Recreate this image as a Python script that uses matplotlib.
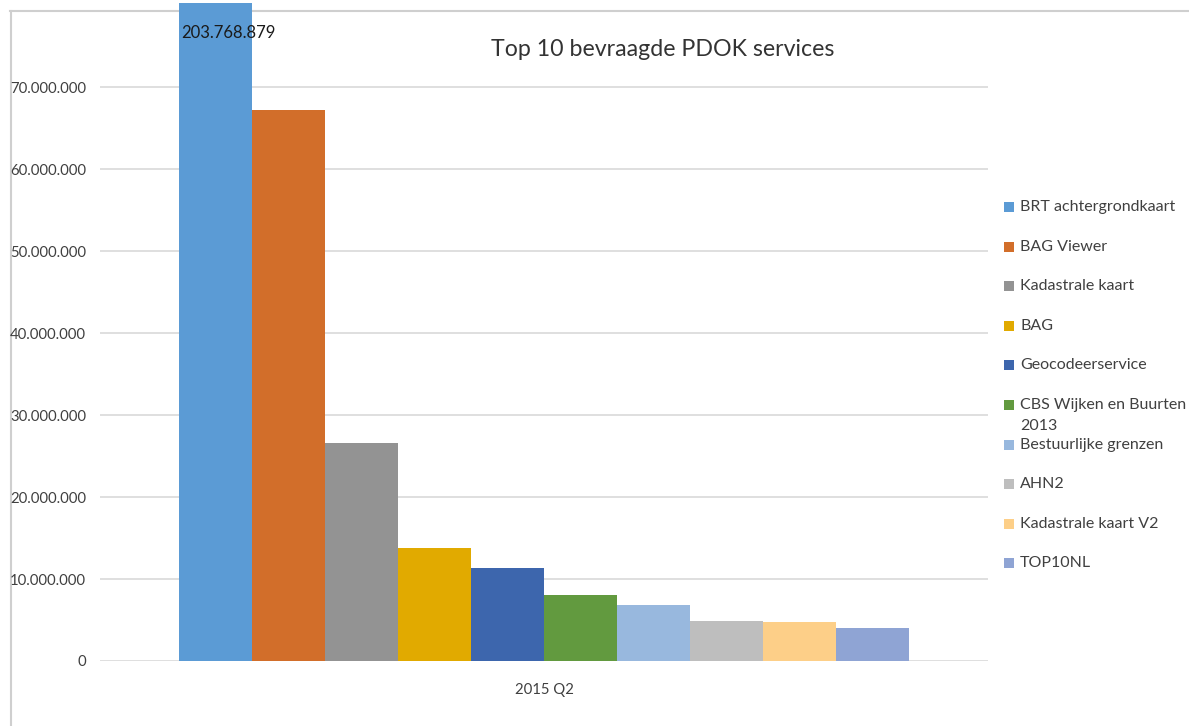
import textwrap
import matplotlib
matplotlib.use("Agg")
import matplotlib.pyplot as plt
from matplotlib.lines import Line2D
from matplotlib.patches import Rectangle

plt.rcParams['font.family'] = ['Lato', 'DejaVu Sans']

# ---- data ----
title = "Top 10 bevraagde PDOK services"
category = "2015 Q2"
services = ["BRT achtergrondkaart", "BAG Viewer", "Kadastrale kaart", "BAG",
            "Geocodeerservice", "CBS Wijken en Buurten 2013", "Bestuurlijke grenzen",
            "AHN2", "Kadastrale kaart V2", "TOP10NL"]
requests = [203768879, 67250000, 26600000, 13800000, 11350000,
            8050000, 6830000, 4880000, 4760000, 4030000]
colors = ["#5B9BD5", "#D26E2A", "#939393", "#E1AA00", "#3D66AD",
          "#629A3F", "#98B8DE", "#BEBEBE", "#FDCF88", "#8FA4D4"]
y_ticks = [0, 10000000, 20000000, 30000000, 40000000, 50000000, 60000000, 70000000]
y_max = 80310000


def nl(v):
    return f"{int(round(v)):,}".replace(",", ".")


W, H = 1189, 726
fig = plt.figure(figsize=(W / 100, H / 100), dpi=100)


def fx(px):
    return px / W


def fy(py):
    return 1 - py / H


# outer chart frame (drawn beneath the plot)
frame_col = "#cfcfcf"
fig.add_artist(Line2D([fx(10), fx(W)], [fy(10.5), fy(10.5)], transform=fig.transFigure,
                      color=frame_col, lw=1.5, zorder=-5))
fig.add_artist(Line2D([fx(10.5), fx(10.5)], [fy(10.5), fy(H)], transform=fig.transFigure,
                      color=frame_col, lw=1.5, zorder=-5))

ax = fig.add_axes([fx(100), fy(661), (988 - 100) / W, (661 - 3) / H])
ax.patch.set_alpha(0)

n = len(services)
bar_w = 0.0821
xs = [(i - (n - 1) / 2) * bar_w for i in range(n)]
ax.bar(xs, requests, width=bar_w, color=colors, zorder=3, linewidth=0)

ax.set_xlim(-0.5, 0.5)
ax.set_ylim(0, y_max)
ax.set_yticks(y_ticks)
ax.set_yticklabels([nl(v) for v in y_ticks])
ax.set_xticks([0])
ax.set_xticklabels([category])
ax.tick_params(axis='y', length=0, pad=10, labelsize=10.7, labelcolor="#404040")
ax.tick_params(axis='x', length=0, pad=16, labelsize=10.7, labelcolor="#404040")
ax.grid(axis='y', color="#d9d9d9", lw=1.2, zorder=0)
ax.set_axisbelow(True)
for s in ax.spines.values():
    s.set_visible(False)

# data label for the clipped first bar
ax.annotate(nl(requests[0]), xy=(xs[0], y_max), xycoords='data',
            xytext=(12, -30), textcoords='offset pixels',
            ha='center', va='center', fontsize=12, color="#1a1a1a",
            annotation_clip=False, zorder=5)

# title
fig.text(fx(663), fy(50), title, ha='center', va='center', fontsize=16.7,
         fontweight='normal', color="#333333")

# legend (manual, Excel-like wrapping)
leg_y0 = 207
leg_dy = 39.6
for i, (lab, col) in enumerate(zip(services, colors)):
    yc = leg_y0 + i * leg_dy
    fig.add_artist(Rectangle((fx(1004), fy(yc + 5)), 10 / W, 10 / H,
                             transform=fig.transFigure, color=col, lw=0))
    for k, line in enumerate(textwrap.wrap(lab, 21)):
        fig.text(fx(1020), fy(yc + k * 21), line, ha='left', va='center',
                 fontsize=11.5, color="#404040")

fig.savefig("out.png", dpi=100)
